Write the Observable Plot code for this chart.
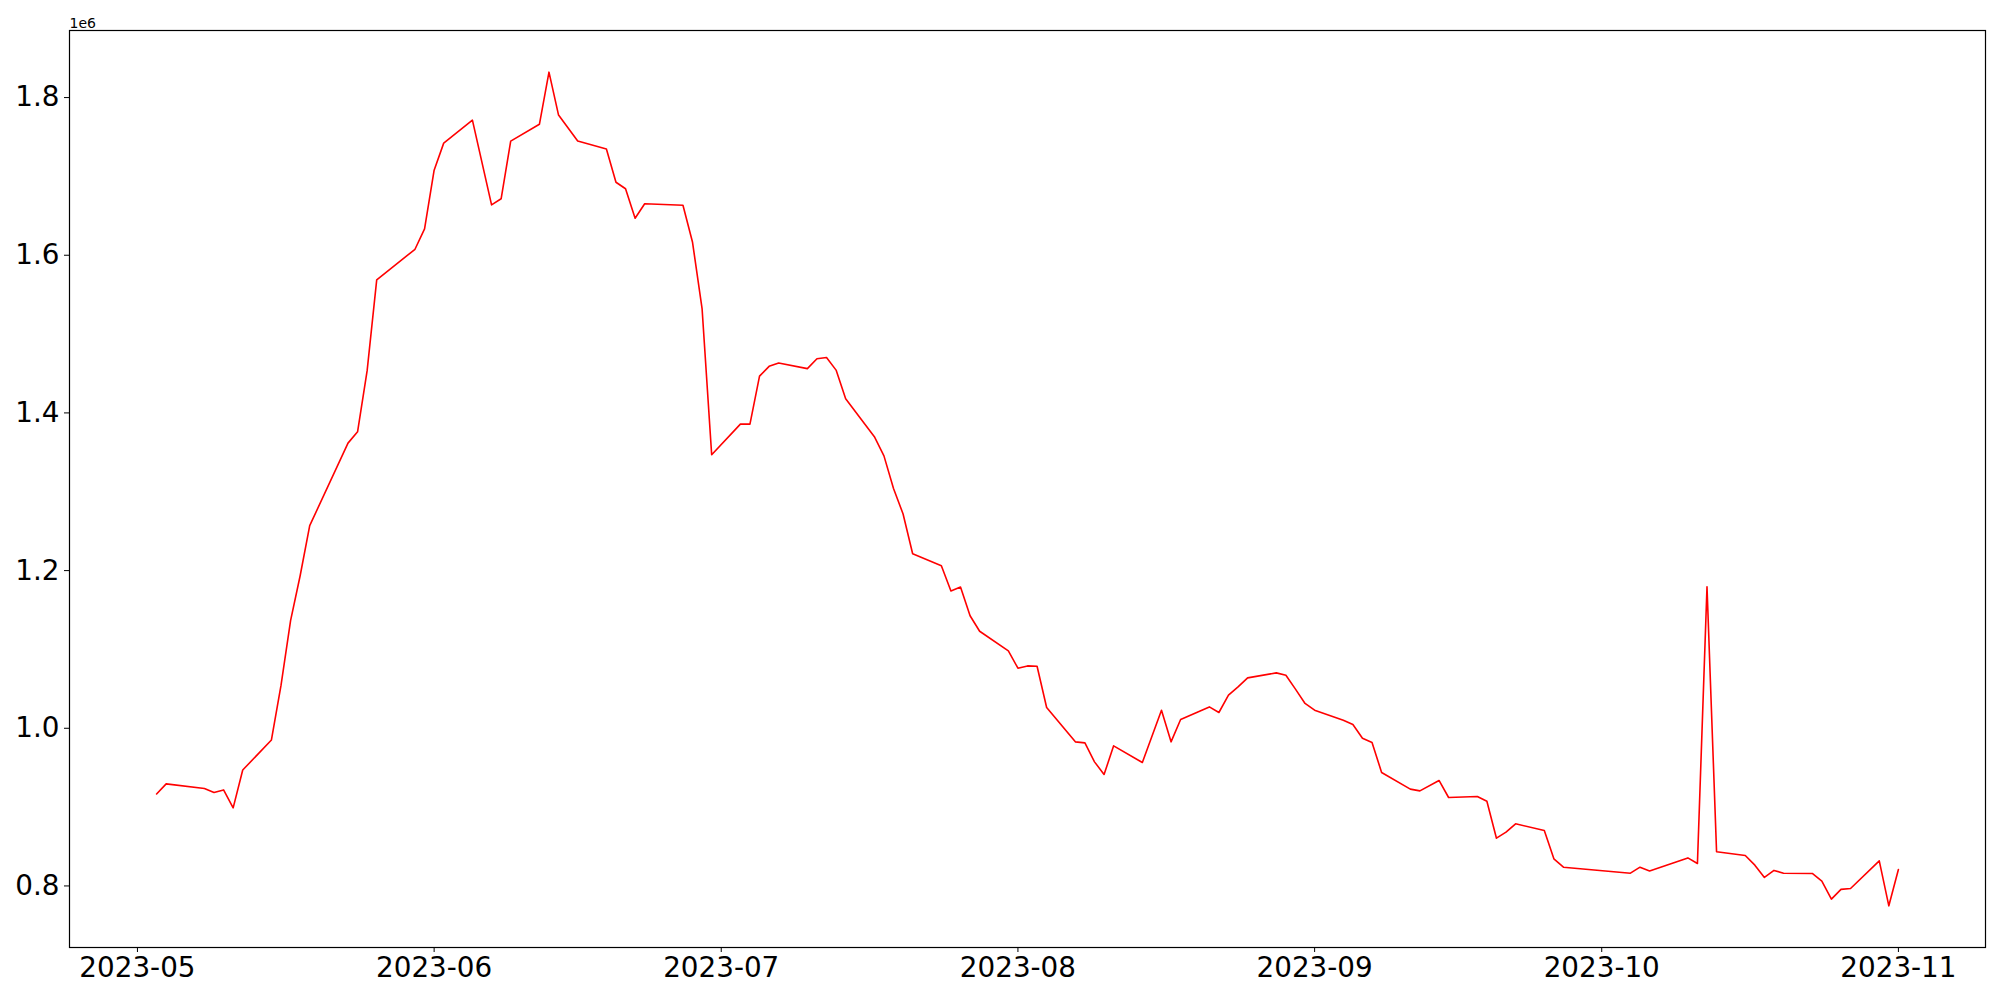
<!DOCTYPE html>
<html>
<head>
<meta charset="utf-8">
<script src="https://cdn.jsdelivr.net/npm/d3@7"></script>
<script src="https://cdn.jsdelivr.net/npm/@observablehq/plot@0.6"></script>
<style>
  html, body { margin: 0; padding: 0; background: white; }
  svg { display: block; }
</style>
</head>
<body>
<script>
const dates = [
  "2023-05-03","2023-05-04","2023-05-08","2023-05-09","2023-05-10","2023-05-11","2023-05-12",
  "2023-05-15","2023-05-16","2023-05-17","2023-05-18","2023-05-19","2023-05-23","2023-05-24",
  "2023-05-25","2023-05-26","2023-05-30","2023-05-31","2023-06-01","2023-06-02","2023-06-05",
  "2023-06-07","2023-06-08","2023-06-09","2023-06-12","2023-06-13","2023-06-14","2023-06-16",
  "2023-06-19","2023-06-20","2023-06-21","2023-06-22","2023-06-23","2023-06-27","2023-06-28",
  "2023-06-29","2023-06-30","2023-07-03","2023-07-04","2023-07-05","2023-07-06","2023-07-07",
  "2023-07-10","2023-07-11","2023-07-12","2023-07-13","2023-07-14","2023-07-17","2023-07-18",
  "2023-07-19","2023-07-20","2023-07-21","2023-07-24","2023-07-25","2023-07-26","2023-07-27",
  "2023-07-28","2023-07-31","2023-08-01","2023-08-02","2023-08-03","2023-08-04","2023-08-07",
  "2023-08-08","2023-08-09","2023-08-10","2023-08-11","2023-08-14","2023-08-16","2023-08-17",
  "2023-08-18","2023-08-21","2023-08-22","2023-08-23","2023-08-24","2023-08-25","2023-08-28",
  "2023-08-29","2023-08-30","2023-08-31","2023-09-01","2023-09-04","2023-09-05","2023-09-06",
  "2023-09-07","2023-09-08","2023-09-11","2023-09-12","2023-09-14","2023-09-15","2023-09-18",
  "2023-09-19","2023-09-20","2023-09-21","2023-09-22","2023-09-25","2023-09-26","2023-09-27",
  "2023-10-04","2023-10-05","2023-10-06","2023-10-10","2023-10-11","2023-10-12","2023-10-13",
  "2023-10-16","2023-10-17","2023-10-18","2023-10-19","2023-10-20","2023-10-23","2023-10-24",
  "2023-10-25","2023-10-26","2023-10-27","2023-10-30","2023-10-31","2023-11-01"
];
const values = [
  916600, 929500, 923700, 918600, 921800, 899000, 947000,
  985200, 1054400, 1136600, 1193500, 1257000, 1361700, 1376000,
  1453600, 1568800, 1607600, 1633500, 1707900, 1742200, 1771300,
  1663900, 1671600, 1744800, 1766100, 1832200, 1777800, 1745000,
  1734800, 1692600, 1684300, 1646900, 1665300, 1663400, 1616400,
  1531900, 1347000, 1385800, 1385800, 1446600, 1459100, 1463400,
  1456200, 1468700, 1470300, 1454300, 1417900, 1369800, 1345500,
  1304200, 1271800, 1221300, 1206200, 1174100, 1179100, 1142700,
  1123100, 1098200, 1076200, 1079100, 1078700, 1026400, 982800,
  981500, 957400, 941400, 977700, 956600, 1022900, 982800,
  1011200, 1027100, 1020000, 1042000, 1052500, 1063900, 1070300,
  1067300, 1049600, 1031500, 1022900, 1010300, 1004800, 987400,
  982000, 943900, 922800, 920600, 933800, 912200, 913500,
  907500, 860600, 868200, 878800, 870400, 834400, 823800,
  816200, 823800, 819100, 835600, 828500, 1179400, 843300,
  838700, 826400, 810800, 819700, 816200, 815800, 806100,
  783300, 795600, 796800, 831800, 774800, 820900
];
const xTickLabels = ["2023-05-01","2023-06-01","2023-07-01","2023-08-01","2023-09-01","2023-10-01","2023-11-01"];
const yTicks = [800000, 1000000, 1200000, 1400000, 1600000, 1800000];
const offsetLabel = ["1e6"];

const data = dates.map((d, i) => ({date: new Date(d + "T00:00:00Z"), value: values[i]}));

// matplotlib-style 5% margins around the data extent
const xMin = d3.min(data, d => +d.date), xMax = d3.max(data, d => +d.date);
const xPad = (xMax - xMin) * 0.05;
const yMin = d3.min(values), yMax = d3.max(values);
const yPad = (yMax - yMin) * 0.05;

const chart = Plot.plot({
  width: 2000,
  height: 1000,
  marginLeft: 69,
  marginRight: 15,
  marginTop: 30,
  marginBottom: 53,
  style: {fontFamily: "DejaVu Sans", background: "white", color: "black"},
  x: {type: "utc", domain: [new Date(xMin - xPad), new Date(xMax + xPad)]},
  y: {domain: [yMin - yPad, yMax + yPad]},
  marks: [
    Plot.line(data, {x: "date", y: "value", stroke: "red", strokeWidth: 1.6}),
    Plot.frame({stroke: "black", strokeWidth: 1.2}),
    Plot.axisX({
      ticks: xTickLabels.map(d => new Date(d + "T00:00:00Z")),
      tickFormat: d3.utcFormat("%Y-%m"),
      tickSize: 5, tickPadding: 5, fontSize: 27.8, label: null, stroke: "black"
    }),
    Plot.axisY({
      ticks: yTicks,
      tickFormat: d => (d / 1e6).toFixed(1),
      tickSize: 5, tickPadding: 5, fontSize: 27.8, label: null, stroke: "black"
    }),
    Plot.text(offsetLabel, {
      text: d => d, frameAnchor: "top-left", textAnchor: "start",
      lineAnchor: "bottom", dy: -3, fontSize: 14, fill: "black"
    })
  ]
});
document.body.appendChild(chart);
</script>
</body>
</html>
